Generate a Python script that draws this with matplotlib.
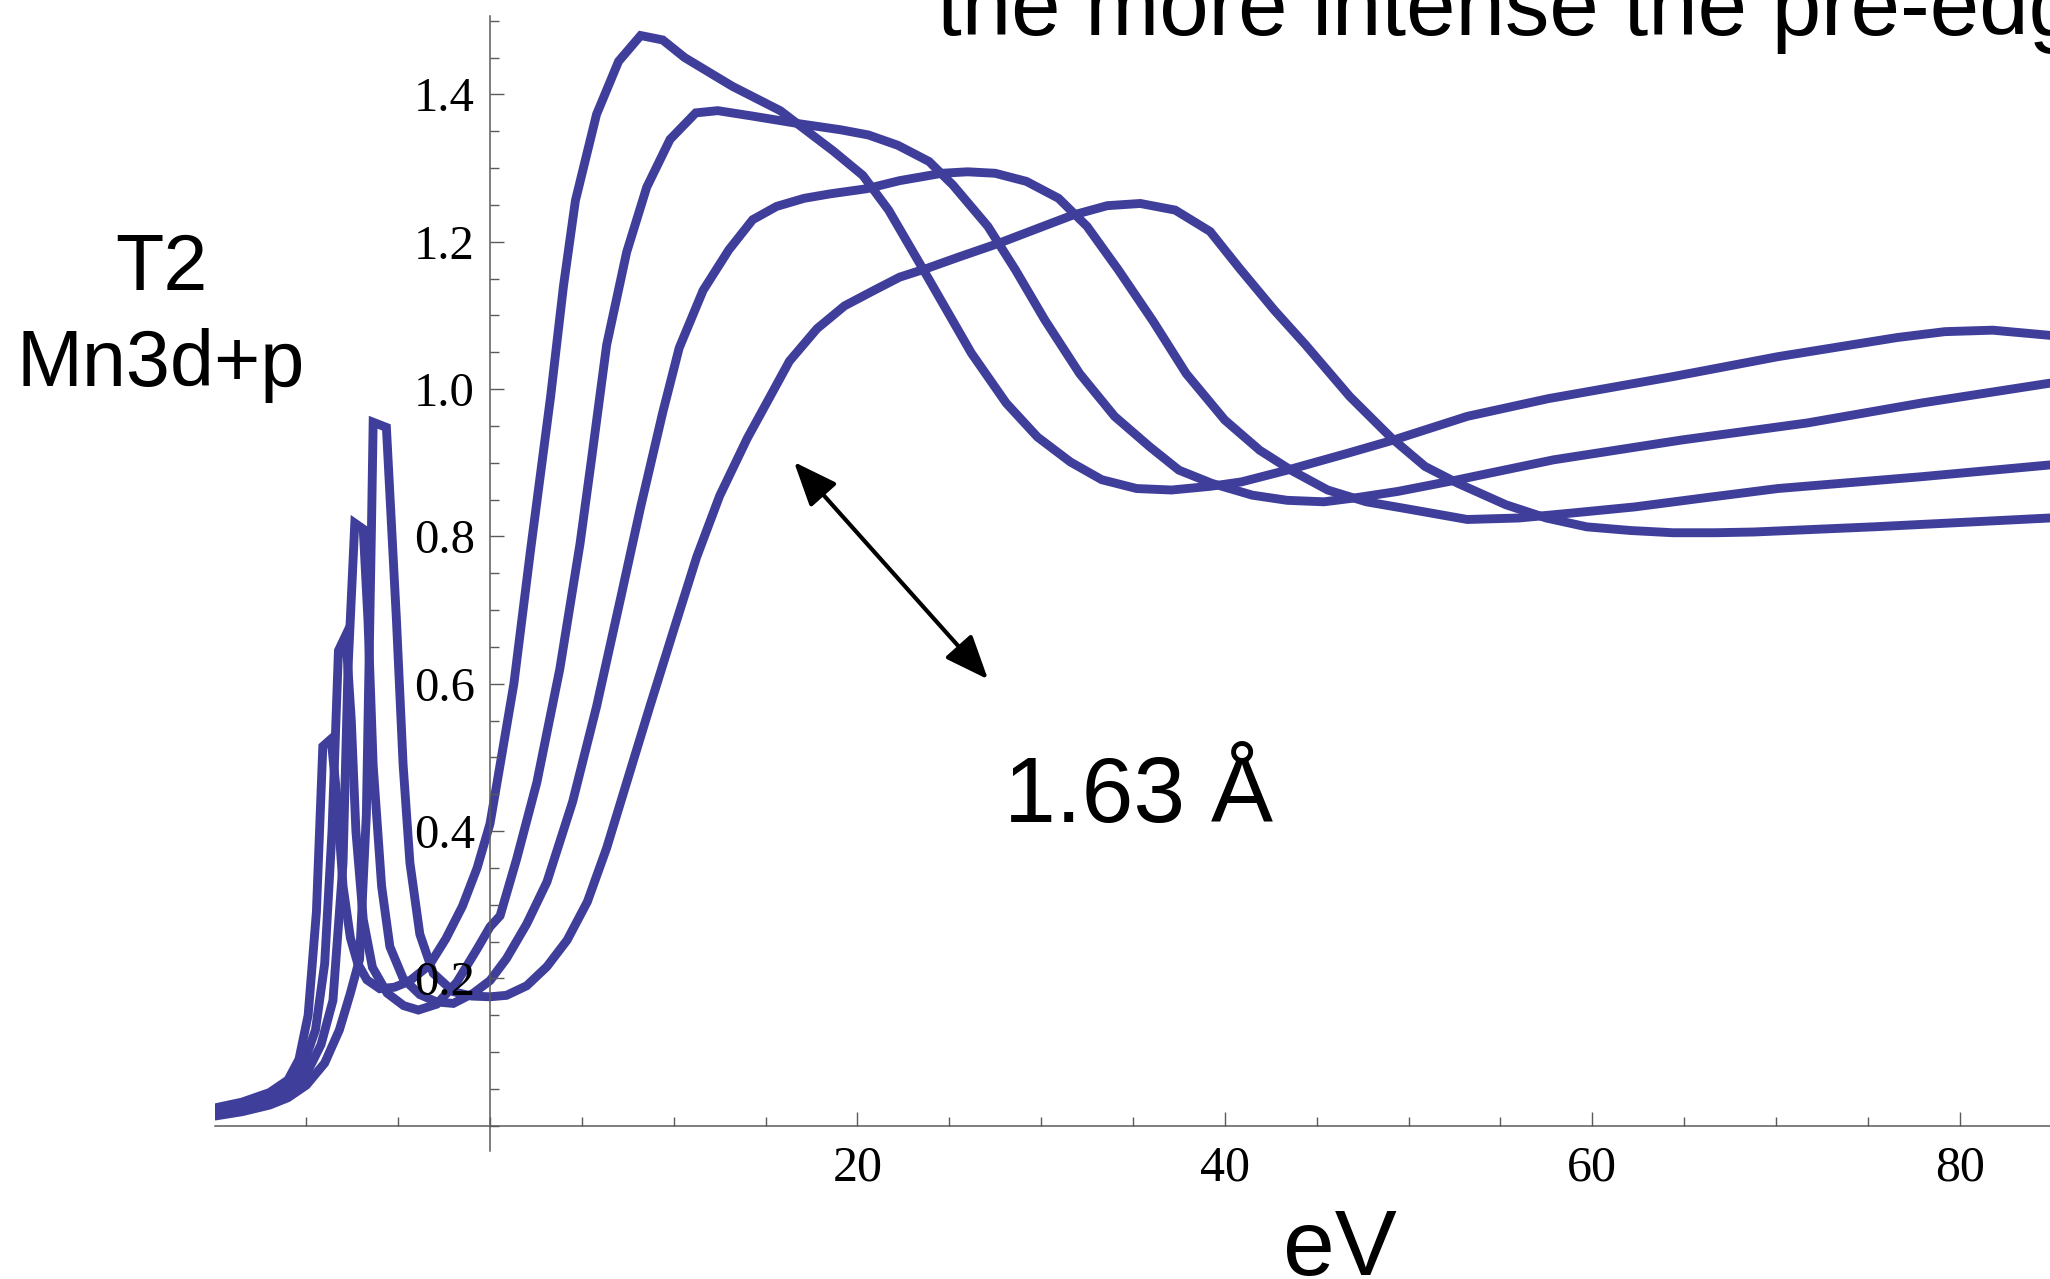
import matplotlib
matplotlib.use("Agg")
import matplotlib.pyplot as plt
from matplotlib.ticker import FixedLocator, MultipleLocator, FormatStrFormatter

# ---------------- data ----------------
ev_a = [-15, -13.5, -12, -11, -10.4, -9.9, -9.45, -9.1, -8.65, -8.35,
        -8.0, -7.6, -7.2, -6.7, -6.0, -5.2, -4.4, -3.3, -2.4, -1.5,
        -0.7, 0, 0.55, 1.3, 2.2, 3.3, 4.0, 4.65, 5.8, 7.0,
        8.2, 9.4, 10.6, 13.2, 15.8, 18.7, 20.3, 21.7, 23.5, 26.2,
        28.1, 29.8, 31.6, 33.3, 35.2, 37.1, 39.2, 40.9, 43.4, 46.7,
        49.2, 53.2, 57.6, 64.4, 70.1, 76.6, 79.2, 81.8, 84.9, 87]
mu_a = [0.024, 0.032, 0.045, 0.062, 0.09, 0.15, 0.29, 0.515, 0.525, 0.45,
        0.325, 0.255, 0.22, 0.198, 0.186, 0.188, 0.196, 0.218, 0.254, 0.298,
        0.35, 0.41, 0.49, 0.6, 0.78, 0.99, 1.14, 1.256, 1.373, 1.445,
        1.48, 1.474, 1.45, 1.411, 1.378, 1.323, 1.29, 1.243, 1.166, 1.049,
        0.981, 0.935, 0.901, 0.877, 0.865, 0.863, 0.868, 0.874, 0.89, 0.913,
        0.931, 0.963, 0.987, 1.017, 1.044, 1.07, 1.078, 1.08, 1.073, 1.068]

ev_b = [-15, -13.5, -12, -11, -10.2, -9.5, -9.0, -8.6, -8.25, -7.85,
        -7.55, -7.3, -6.9, -6.4, -5.6, -4.7, -3.9, -2.9, -1.8, -0.7,
        0, 0.55, 1.45, 2.55, 3.8, 4.9, 5.5, 6.35, 7.44, 8.53,
        9.8, 11.2, 12.4, 14.2, 16.9, 19.1, 20.6, 22.2, 23.9, 25.2,
        27.1, 28.6, 30.2, 32.1, 34.0, 35.9, 37.5, 39.3, 41.5, 43.4,
        45.4, 47.0, 49.4, 52.7, 57.9, 64.9, 71.7, 77.9, 84.9, 87]
mu_b = [0.02, 0.028, 0.04, 0.055, 0.08, 0.13, 0.22, 0.4, 0.645, 0.666,
        0.55, 0.4, 0.28, 0.215, 0.18, 0.163, 0.157, 0.165, 0.195, 0.24,
        0.27, 0.285, 0.362, 0.466, 0.62, 0.79, 0.9, 1.06, 1.186, 1.274,
        1.339, 1.375, 1.378, 1.371, 1.36, 1.352, 1.345, 1.331, 1.309, 1.277,
        1.221, 1.162, 1.094, 1.021, 0.963, 0.922, 0.89, 0.872, 0.856, 0.849,
        0.847, 0.852, 0.861, 0.877, 0.904, 0.931, 0.954, 0.981, 1.008, 1.016]

ev_c = [-15, -13.5, -12, -11, -10, -9.2, -8.55, -8.0, -7.73, -7.36,
        -6.9, -6.64, -6.36, -5.9, -5.45, -4.73, -3.82, -2.9, -2.0, -0.9,
        0, 0.9, 2.0, 3.1, 4.5, 5.8, 7.1, 8.2, 9.4, 10.3,
        11.6, 13.0, 14.3, 15.6, 17.1, 18.5, 20.5, 22.3, 24.6, 26.0,
        27.5, 29.2, 30.95, 32.5, 34.2, 36.1, 37.9, 40.0, 41.9, 43.6,
        45.6, 47.7, 49.8, 53.2, 56.0, 59.0, 62.3, 66.0, 70.1, 77.9,
        84.9, 87]
mu_c = [0.017, 0.025, 0.035, 0.048, 0.07, 0.11, 0.17, 0.357, 0.62, 0.818,
        0.81, 0.685, 0.489, 0.325, 0.243, 0.2, 0.178, 0.168, 0.166, 0.18,
        0.197, 0.227, 0.274, 0.331, 0.44, 0.569, 0.715, 0.84, 0.968, 1.056,
        1.134, 1.189, 1.23, 1.248, 1.259, 1.265, 1.272, 1.283, 1.293, 1.295,
        1.293, 1.282, 1.259, 1.221, 1.162, 1.092, 1.021, 0.958, 0.917, 0.89,
        0.863, 0.847, 0.838, 0.823, 0.825, 0.832, 0.84, 0.852, 0.865, 0.881,
        0.897, 0.902]

ev_d = [-15, -13.5, -12, -11, -10, -9, -8.2, -7.6, -7.1, -6.73,
        -6.45, -6.36, -5.64, -5.09, -4.73, -4.36, -3.82, -3.09, -2.0, -1.0,
        0, 0.9, 2.0, 3.1, 4.2, 5.3, 6.35, 7.44, 8.7, 10.0,
        11.25, 12.5, 14.0, 15.25, 16.3, 17.8, 19.3, 20.9, 22.3, 23.8,
        25.6, 27.7, 29.8, 31.7, 33.6, 35.4, 37.3, 39.2, 40.8, 42.7,
        44.4, 46.8, 49.1, 50.9, 52.7, 55.3, 57.5, 59.7, 62.1, 64.4,
        66.7, 68.8, 75.3, 84.9, 87]
mu_d = [0.013, 0.019, 0.028, 0.038, 0.055, 0.085, 0.13, 0.18, 0.226, 0.423,
        0.816, 0.955, 0.948, 0.685, 0.49, 0.357, 0.26, 0.207, 0.182, 0.176,
        0.175, 0.177, 0.19, 0.216, 0.252, 0.304, 0.377, 0.466, 0.569, 0.673,
        0.772, 0.855, 0.933, 0.99, 1.038, 1.082, 1.113, 1.134, 1.152, 1.164,
        1.18, 1.198, 1.218, 1.236, 1.249, 1.252, 1.243, 1.214, 1.164, 1.107,
        1.06, 0.99, 0.933, 0.895, 0.872, 0.843, 0.825, 0.813, 0.808, 0.805,
        0.805, 0.806, 0.813, 0.825, 0.827]

x_major = [20, 40, 60, 80]
y_major = [0.2, 0.4, 0.6, 0.8, 1.0, 1.2, 1.4]
arrow_from = (27.11, 0.606)
arrow_to = (16.55, 0.901)

# ---------------- figure / axes ----------------
W, H, DPI = 2050, 1279, 100
fig = plt.figure(figsize=(W / DPI, H / DPI), dpi=DPI)
fig.patch.set_facecolor("white")

x0_px, xs = 490.0, 18.37       # pixel of x=0, px per eV
y0_px, ys = 1125.7, 736.6      # pixel of y=0, px per unit
xmin, xmax = -14.97, (W - x0_px) / xs
ymin, ymax = -0.035, 1.507
left = (x0_px + xmin * xs) / W
right = (x0_px + xmax * xs) / W
bottom = 1 - (y0_px - ymin * ys) / H
top = 1 - (y0_px - ymax * ys) / H
ax = fig.add_axes([left, bottom, right - left, top - bottom])
ax.set_xlim(xmin, xmax)
ax.set_ylim(ymin, ymax)

line_color = "#403e9b"
for ev, mu in [(ev_a, mu_a), (ev_b, mu_b), (ev_c, mu_c), (ev_d, mu_d)]:
    ax.plot(ev, mu, color=line_color, lw=6.4, solid_joinstyle="miter",
            solid_capstyle="butt", zorder=2)

# spines crossing at the origin
for s in ("top", "right"):
    ax.spines[s].set_visible(False)
ax.spines["left"].set_position(("data", 0))
ax.spines["bottom"].set_position(("data", 0))
for s in ("left", "bottom"):
    ax.spines[s].set_color("#5a5a5a")
    ax.spines[s].set_linewidth(1.1)
    ax.spines[s].set_zorder(3)
ax.set_axisbelow(False)

ax.xaxis.set_major_locator(FixedLocator(x_major))
ax.xaxis.set_minor_locator(MultipleLocator(5))
ax.yaxis.set_major_locator(FixedLocator(y_major))
ax.yaxis.set_minor_locator(MultipleLocator(0.05))
ax.xaxis.set_major_formatter(FormatStrFormatter("%d"))
ax.yaxis.set_major_formatter(FormatStrFormatter("%.1f"))

ax.tick_params(which="both", direction="in", color="#5a5a5a", width=1.0)
ax.tick_params(which="major", length=10)
ax.tick_params(which="minor", length=6.3)
ax.tick_params(axis="x", which="major", pad=14, labelsize=36)
ax.tick_params(axis="y", which="major", pad=11, labelsize=35)
for lab in ax.get_xticklabels() + ax.get_yticklabels():
    lab.set_fontfamily("Liberation Serif")

# arrow
ax.annotate("", xy=arrow_to, xytext=arrow_from,
            arrowprops=dict(arrowstyle="<|-|>,head_length=1.35,head_width=0.55",
                            mutation_scale=20, lw=3.0, color="black",
                            shrinkA=0, shrinkB=0), zorder=4)

# texts
sans = "Liberation Sans"
fig.text(161 / W, 1 - 290 / H, "T2", ha="center", va="baseline",
         fontsize=57, family=sans)
fig.text(161 / W, 1 - 386 / H, "Mn3d+p", ha="center", va="baseline",
         fontsize=57, family=sans)
fig.text(1004 / W, 1 - 822 / H, "1.63 Å", ha="left", va="baseline",
         fontsize=67, family=sans)
fig.text(1340 / W, 4 / H, "eV", ha="center", va="baseline",
         fontsize=67, family=sans)
fig.text(937 / W, 1 - 35 / H, "the more intense the pre-edge", ha="left",
         va="baseline", fontsize=64, family=sans)

fig.savefig("out.png", dpi=DPI, facecolor="white")
